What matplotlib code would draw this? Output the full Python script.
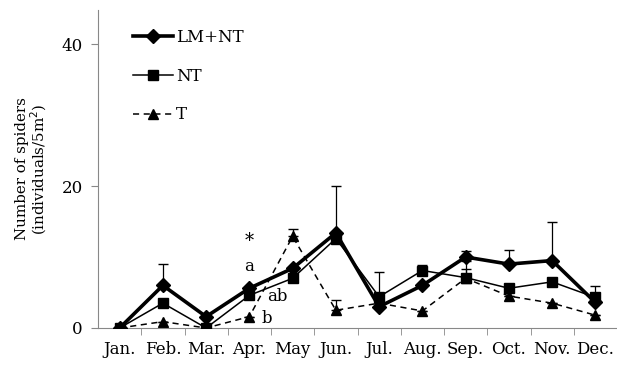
import matplotlib
matplotlib.use("Agg")
import matplotlib.pyplot as plt
import numpy as np

months = ["Jan.", "Feb.", "Mar.", "Apr.", "May", "Jun.", "Jul.", "Aug.", "Sep.", "Oct.", "Nov.", "Dec."]

lm_nt = [0, 6.0, 1.6, 5.6, 8.4, 13.4, 3.0, 6.0, 10.0, 9.0, 9.5, 3.6]
lm_nt_err = [0, 3.0, 0, 0, 0, 6.6, 0, 0, 0.9, 2.0, 5.5, 2.3]

nt = [0, 3.5, 0, 4.6, 7.0, 12.6, 4.4, 8.1, 7.1, 5.6, 6.5, 4.3]
nt_err = [0, 0, 0, 0, 0, 0, 3.5, 0.8, 1.2, 0, 0, 0.7]

t = [0, 0.9, 0, 1.6, 12.9, 2.5, 3.5, 2.4, 7.0, 4.5, 3.5, 1.8]
t_err = [0, 0, 0, 0, 1.0, 1.4, 0, 0, 2.4, 0, 0, 0]

plt.rcParams["font.family"] = ["DejaVu Serif"]

fig = plt.figure(figsize=(6.17, 3.65), dpi=100)
ax = fig.add_axes([98 / 617, 1 - 328 / 365, 519 / 617, 318 / 365])

x = np.arange(len(months))
zeros = np.zeros(len(months))

eb_t = ax.errorbar(x, t, yerr=[zeros, t_err], color="black", lw=1.1, ls=(0, (4, 3)),
                   marker="^", ms=7, capsize=3.5, elinewidth=0.9, ecolor="black", zorder=2)
eb_nt = ax.errorbar(x, nt, yerr=[zeros, nt_err], color="black", lw=1.1, marker="s", ms=7.5,
                    capsize=3.5, elinewidth=0.9, ecolor="black", zorder=3)
eb_lm = ax.errorbar(x, lm_nt, yerr=[zeros, lm_nt_err], color="black", lw=2.6, marker="D", ms=7.5,
                    capsize=3.5, elinewidth=0.9, ecolor="black", zorder=4)

# significance marks at April
ax.text(3, 12.2, "*", ha="center", va="center", fontsize=13)
ax.text(3, 8.6, "a", ha="center", va="center", fontsize=12)
ax.text(3.65, 4.4, "ab", ha="center", va="center", fontsize=12)
ax.text(3.4, 1.4, "b", ha="center", va="center", fontsize=12)

ax.set_xlim(-0.5, 11.5)
ax.set_ylim(0, 44.8)
ax.set_yticks([0, 20, 40])
ax.set_xticks(x)
ax.set_xticklabels(months)
ax.set_xticks(np.arange(0.5, 11, 1), minor=True)
ax.tick_params(axis="x", which="major", length=0, labelsize=12, pad=9)
ax.tick_params(axis="x", which="minor", length=5, color="#888888")
ax.tick_params(axis="y", length=5, color="#888888", labelsize=12, pad=6)

for side in ["top", "right"]:
    ax.spines[side].set_visible(False)
for side in ["left", "bottom"]:
    ax.spines[side].set_color("#888888")

ax.set_ylabel("Number of spiders\n(individuals/5m$^2$)", fontsize=10.8, linespacing=1.0)
ax.yaxis.set_label_coords(-0.094, 0.5)

ax.legend([eb_lm[0], eb_nt[0], eb_t[0]], ["LM+NT", "NT", "T"], loc="upper left",
          bbox_to_anchor=(0.067, 0.94), frameon=False, fontsize=12, handlelength=2.4,
          handletextpad=0.2, labelspacing=1.3, borderpad=0, borderaxespad=0)

fig.savefig("out.png", dpi=100)
